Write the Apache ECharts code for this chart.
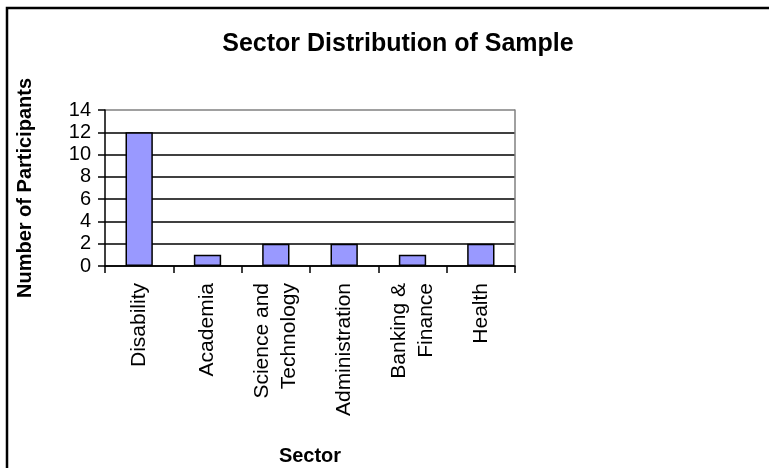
<!DOCTYPE html>
<html>
<head>
<meta charset="utf-8">
<script src="https://cdn.jsdelivr.net/npm/echarts@6/dist/echarts.min.js"></script>
<style>
  html, body { margin: 0; padding: 0; background: #fff; }
  #chart { width: 769px; height: 468px; }
</style>
</head>
<body>
<div id="chart"></div>
<script>
// Sectors represented in the sample and how many participants came from each
var sectors = ['Disability', 'Academia', 'Science and\nTechnology', 'Administration', 'Banking &\nFinance', 'Health'];
var participants = [12, 1, 2, 2, 1, 2];
var yTicks = { min: 0, max: 14, step: 2 };

var FONT = '"Liberation Sans", Arial, sans-serif';

var chart = echarts.init(document.getElementById('chart'), null, { renderer: 'canvas' });

// top gridline drawn grey like the plot frame, the rest black
var gridColors = [];
for (var v = yTicks.min; v <= yTicks.max; v += yTicks.step) {
  gridColors.push(v === yTicks.max ? '#808080' : '#000');
}

chart.setOption({
  backgroundColor: '#fff',
  animation: false,
  title: {
    text: 'Sector Distribution of Sample',
    left: 393,
    textAlign: 'center',
    top: 27,
    textStyle: { fontFamily: FONT, fontSize: 25, fontWeight: 'bold', color: '#000' }
  },
  graphic: [{
    type: 'rect',
    shape: { x: 7, y: 8, width: 800, height: 500 },
    style: { fill: 'none', stroke: '#000', lineWidth: 2.5 },
    silent: true
  }],
  grid: { left: 105, right: 254, top: 110, bottom: 202 },
  xAxis: {
    type: 'category',
    data: sectors,
    name: 'Sector',
    nameLocation: 'middle',
    nameGap: 180,
    nameTextStyle: { fontFamily: FONT, fontSize: 20, fontWeight: 'bold', color: '#000' },
    axisLine: { lineStyle: { color: '#000', width: 1.5 } },
    axisTick: { show: true, alignWithLabel: false, interval: 0, length: 7, lineStyle: { color: '#000', width: 1.5 } },
    axisLabel: {
      interval: 0,
      rotate: 90,
      margin: 17,
      fontFamily: FONT,
      fontSize: 21,
      lineHeight: 27,
      color: '#000'
    }
  },
  yAxis: [{
    type: 'value',
    min: yTicks.min,
    max: yTicks.max,
    interval: yTicks.step,
    name: 'Number of Participants',
    nameLocation: 'middle',
    nameGap: 70,
    nameTextStyle: { fontFamily: FONT, fontSize: 20, fontWeight: 'bold', color: '#000' },
    axisLine: { show: true, lineStyle: { color: '#000', width: 1.5 } },
    axisTick: { show: true, length: 7, lineStyle: { color: '#000', width: 1.5 } },
    axisLabel: { margin: 14, fontFamily: FONT, fontSize: 20, color: '#000' },
    splitLine: { show: true, lineStyle: { color: gridColors, width: 1.5 } }
  }, {
    type: 'value',
    position: 'right',
    min: yTicks.min,
    max: yTicks.max,
    interval: yTicks.step,
    axisLine: { show: true, lineStyle: { color: '#808080', width: 1.5 } },
    axisTick: { show: false },
    axisLabel: { show: false },
    splitLine: { show: false }
  }],
  series: [{
    type: 'bar',
    data: participants,
    yAxisIndex: 0,
    barWidth: '40%',
    itemStyle: { color: '#9999FF', borderColor: '#000', borderWidth: 1.5 }
  }]
});
</script>
</body>
</html>
